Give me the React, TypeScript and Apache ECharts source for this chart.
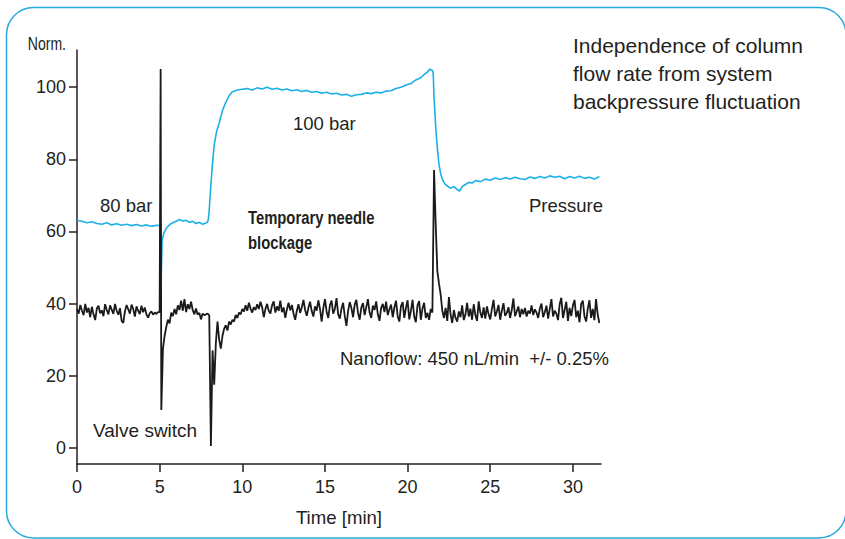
import React, { useEffect, useRef } from "react";
import * as echarts from "echarts";

// ---- Data ----
const xTickValues = [0, 5, 10, 15, 20, 25, 30];
const yTickValues = [0, 20, 40, 60, 80, 100];

// Pressure trace (normalised), [time (min), value]
const pressurePoints: [number, number][] = [
  [0, 63.0], [0.3, 62.8], [0.6, 62.4], [0.9, 62.7], [1.2, 62.2], [1.5, 62.0], [1.8, 62.4], [2.1, 61.8],
  [2.4, 62.1], [2.7, 61.7], [3.0, 62.0], [3.3, 61.6], [3.6, 61.9], [3.9, 61.5], [4.2, 61.8], [4.5, 61.4],
  [4.8, 61.7], [5.0, 61.6], [5.06, 61.8], [5.09, 46.5], [5.15, 57.5], [5.25, 59.5], [5.45, 61.2],
  [5.7, 62.2], [6.0, 62.8], [6.2, 63.3], [6.4, 62.9], [6.6, 63.1], [6.8, 62.5], [7.0, 62.8], [7.2, 62.2],
  [7.4, 62.5], [7.6, 62.0], [7.8, 62.3], [7.9, 62.6], [7.95, 63.5], [8.0, 66], [8.1, 73], [8.2, 79],
  [8.3, 84], [8.45, 87.8], [8.6, 90], [8.8, 93.5], [9.0, 95.8], [9.2, 97.6], [9.4, 98.7], [9.7, 99.2],
  [10.0, 99.4], [10.3, 99.6], [10.6, 99.2], [10.9, 99.8], [11.2, 99.5], [11.5, 100.0], [11.8, 99.4],
  [12.1, 99.7], [12.4, 99.2], [12.7, 99.5], [13.0, 99.0], [13.3, 99.3], [13.6, 98.8], [13.9, 99.1],
  [14.2, 98.6], [14.5, 98.8], [14.8, 98.3], [15.1, 98.6], [15.4, 98.1], [15.7, 98.3], [16.0, 97.8],
  [16.3, 98.0], [16.6, 97.5], [16.9, 97.9], [17.2, 98.0], [17.5, 98.4], [17.8, 98.2], [18.1, 98.6],
  [18.4, 98.4], [18.7, 98.9], [19.0, 99.0], [19.3, 99.6], [19.6, 100.0], [19.9, 100.6], [20.2, 101.0],
  [20.5, 102.0], [20.8, 102.6], [21.0, 103.5], [21.2, 104.2], [21.35, 105.0], [21.5, 104.6],
  [21.55, 103.8], [21.6, 97], [21.7, 89], [21.8, 83], [21.9, 78.5], [22.0, 76], [22.1, 74.5],
  [22.25, 73.2], [22.4, 72.6], [22.6, 72.0], [22.8, 72.4], [23.0, 71.6], [23.15, 71.2], [23.3, 72.4],
  [23.5, 73.0], [23.7, 73.6], [23.9, 73.4], [24.1, 74.1], [24.4, 73.8], [24.7, 74.5], [25.0, 74.2],
  [25.3, 74.8], [25.6, 74.4], [25.9, 74.9], [26.2, 74.5], [26.5, 75.0], [26.8, 74.6], [27.1, 74.4],
  [27.4, 75.1], [27.7, 74.7], [28.0, 75.2], [28.3, 74.8], [28.6, 75.4], [28.9, 75.0], [29.2, 75.3],
  [29.5, 74.6], [29.8, 75.2], [30.1, 74.8], [30.4, 75.3], [30.7, 74.7], [31.0, 75.0], [31.3, 74.5],
  [31.6, 75.2],
];

// Nanoflow trace, sampled every 0.1 min from t = 0
const flowStep = 0.1;
const flowValues = [
  38.5, 37.2, 39.6, 38.0, 36.8, 39.9, 37.5, 38.8, 36.2, 39.1,
  37.0, 35.4, 38.6, 39.4, 37.3, 38.1, 36.5, 39.8, 38.2, 37.0,
  39.5, 38.3, 37.1, 39.9, 38.0, 36.9, 38.7, 35.2, 34.6, 37.8,
  39.6, 38.4, 37.2, 39.7, 38.5, 36.4, 39.2, 38.0, 37.1, 39.4,
  37.6, 38.9, 37.0, 36.1, 37.3, 37.8, 36.9, 37.5, 37.1, 37.6,
  37.6, 10.5, 27.5, 31.0, 33.5, 35.5, 34.5, 37.5, 36.5, 38.5,
  37.0, 39.5, 38.2, 40.8, 38.0, 41.2, 37.6, 39.8, 38.5, 40.5,
  38.2, 37.0, 38.6, 36.9, 37.4, 35.6, 37.2, 36.8, 37.0, 37.2,
  36.8, 0.5, 27.0, 17.5, 29.0, 35.0, 30.0, 27.5, 31.0, 33.0,
  34.0, 32.5, 35.0, 34.2, 35.5, 35.0, 36.8, 36.0, 37.5, 37.0,
  38.5, 37.8, 39.5, 38.0, 40.2, 38.6, 37.5, 39.0, 38.2, 39.8,
  38.5, 40.5, 39.0, 36.2, 38.5, 39.9, 38.0, 37.2, 39.5, 40.6,
  37.5, 39.2, 38.0, 40.8, 37.6, 38.9, 36.0, 38.4, 40.2, 38.1,
  39.6, 37.2, 35.5, 38.0, 39.8, 37.4, 39.0, 41.0, 38.2, 36.6,
  38.8, 40.5, 37.9, 36.4, 39.2, 38.0, 40.9, 38.5, 35.0, 38.7,
  41.2, 37.8, 36.0, 39.5, 40.8, 37.2, 38.5, 41.5, 37.0, 35.8,
  38.6, 40.2, 36.5, 33.8, 37.9, 40.4, 38.8, 36.2, 39.7, 41.0,
  37.4, 35.5, 38.9, 40.1, 36.8, 39.0, 41.2, 37.5, 36.0, 39.4,
  38.2, 40.6, 37.0, 35.2, 38.8, 39.9, 37.6, 40.5, 36.8, 38.4,
  39.7, 36.2, 38.9, 40.8, 36.5, 35.0, 39.3, 40.4, 36.0, 38.8,
  40.9, 35.6, 38.0, 41.0, 36.4, 34.8, 39.5, 40.7, 35.5, 38.6,
  40.2, 36.0, 37.4, 35.5, 38.5, 37.5, 77.0, 62.0, 49.0, 45.5,
  42.5, 38.0, 36.0, 38.8, 35.2, 41.8, 37.0, 34.6, 38.2, 36.0,
  35.0, 37.8, 36.2, 39.5, 35.4, 37.0, 40.2, 36.4, 38.6, 35.5,
  39.8, 36.8, 35.2, 40.6, 37.5, 36.0, 38.9, 35.8, 39.2, 37.0,
  35.6, 38.5, 41.0, 36.4, 37.8, 39.6, 35.5, 38.0, 40.1, 36.6,
  37.4, 39.0, 36.0, 38.2, 41.4, 36.5, 37.8, 39.2, 36.2, 38.5,
  37.0, 38.8, 36.4, 38.0, 37.2, 39.5, 36.8, 38.4, 37.5, 36.0,
  38.6, 40.0, 36.2, 37.6, 39.4, 35.8, 38.5, 41.2, 36.4, 38.0,
  37.2, 35.4, 39.8, 41.6, 36.0, 38.2, 40.5, 35.2, 38.8, 36.5,
  39.5, 41.0, 36.2, 38.0, 34.8, 39.9, 40.8, 36.5, 35.0, 38.6,
  40.9, 36.0, 38.5, 35.4, 41.2, 37.0, 34.6,
];
// Extra off-grid samples (valve-switch spike)
const flowSpikes: [number, number][] = [[5.06, 105]];

const titleLines = [
  "Independence of column",
  "flow rate from system",
  "backpressure fluctuation",
];

const FONT = "Liberation Sans, Arial, sans-serif";
const INK = "#231f20";
const CYAN = "#1cb0e8";

export default function App() {
  const ref = useRef<HTMLDivElement>(null);

  useEffect(() => {
    if (!ref.current) return;
    const chart = echarts.init(ref.current, undefined, { renderer: "svg" });

    const flowData: [number, number][] = flowValues
      .map((v, i) => [Math.round(i * flowStep * 100) / 100, v] as [number, number])
      .concat(flowSpikes)
      .sort((a, b) => a[0] - b[0]);

    const txt = (text: string, x: number, y: number, extra: any = {}) => ({
      type: "text",
      x,
      y,
      scaleX: extra.scaleX || 1,
      silent: true,
      style: {
        text,
        fill: INK,
        fontSize: extra.size || 18.5,
        fontFamily: FONT,
        fontWeight: extra.weight || "normal",
        align: extra.align || "left",
        verticalAlign: "middle",
      },
    });

    chart.setOption({
      animation: false,
      backgroundColor: "#ffffff",
      grid: { left: 77, right: 244, top: 50, bottom: 75, containLabel: false },
      xAxis: {
        type: "value",
        min: 0,
        max: 31.7,
        splitLine: { show: false },
        axisLine: { show: true, onZero: false, lineStyle: { color: INK, width: 1.5 } },
        axisTick: {
          show: true,
          customValues: xTickValues,
          length: 8,
          lineStyle: { color: INK, width: 1.5 },
        },
        axisLabel: {
          customValues: xTickValues,
          margin: 14,
          fontSize: 18,
          fontFamily: FONT,
          color: INK,
        },
      },
      yAxis: {
        type: "value",
        min: -4.5,
        max: 110.3,
        splitLine: { show: false },
        axisLine: { show: true, onZero: false, lineStyle: { color: INK, width: 1.5 } },
        axisTick: {
          show: true,
          customValues: yTickValues,
          length: 8,
          lineStyle: { color: INK, width: 1.5 },
        },
        axisLabel: {
          customValues: yTickValues,
          margin: 11,
          fontSize: 18,
          fontFamily: FONT,
          color: INK,
        },
      },
      series: [
        {
          name: "Pressure",
          type: "line",
          data: pressurePoints,
          showSymbol: false,
          lineStyle: { color: CYAN, width: 1.6 },
          z: 2,
        },
        {
          name: "Nanoflow",
          type: "line",
          data: flowData,
          showSymbol: false,
          lineStyle: { color: "#1a1a1a", width: 1.8 },
          z: 3,
        },
      ],
      graphic: [
        {
          type: "rect",
          silent: true,
          shape: { x: 6.5, y: 7.5, width: 839.5, height: 530.5, r: 27 },
          style: { fill: "none", stroke: "#27a8df", lineWidth: 1.5 },
        },
        txt("Norm.", 66, 43, { size: 18, align: "right", scaleX: 0.78 }),
        txt(titleLines[0], 573, 45, { size: 21 }),
        txt(titleLines[1], 573, 73, { size: 21 }),
        txt(titleLines[2], 573, 101, { size: 21 }),
        txt("80 bar", 100, 205),
        txt("100 bar", 293, 123),
        txt("Temporary needle", 248, 218, { weight: "bold", size: 19, scaleX: 0.78 }),
        txt("blockage", 248, 243, { weight: "bold", size: 19, scaleX: 0.78 }),
        txt("Pressure", 529, 205),
        txt("Nanoflow: 450 nL/min  +/- 0.25%", 340, 358),
        txt("Valve switch", 93, 430, { size: 19 }),
        txt("Time [min]", 339, 517, { size: 18.6, align: "center" }),
      ],
    });

    return () => chart.dispose();
  }, []);

  return (
    <div
      ref={ref}
      style={{ position: "fixed", left: 0, top: 0, width: 845, height: 539, background: "#fff" }}
    />
  );
}
